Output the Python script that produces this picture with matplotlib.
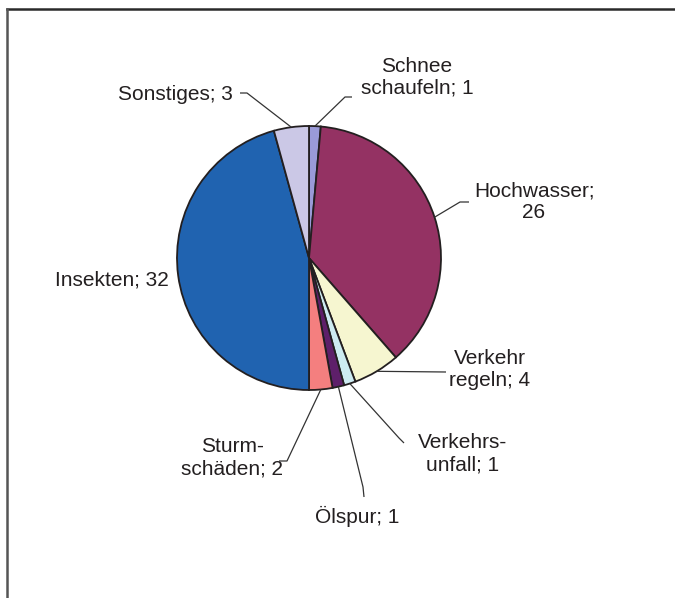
import matplotlib
matplotlib.use("Agg")
import matplotlib.pyplot as plt
import numpy as np
from matplotlib.lines import Line2D

categories = ["Schnee\nschaufeln", "Hochwasser", "Verkehr\nregeln", "Verkehrs-\nunfall",
              "Ölspur", "Sturm-\nschäden", "Insekten", "Sonstiges"]
values = [1, 26, 4, 1, 1, 2, 32, 3]
label_texts = ["Schnee\nschaufeln; 1", "Hochwasser;\n26", "Verkehr\nregeln; 4", "Verkehrs-\nunfall; 1",
               "Ölspur; 1", "Sturm-\nschäden; 2", "Insekten; 32", "Sonstiges; 3"]
colors = ["#9A9AD8", "#943263", "#F6F6D0", "#CDEBF1", "#5E1F6A", "#F47F7F", "#2063B0", "#CBC8E6"]

plt.rcParams['font.family'] = ['Liberation Sans', 'DejaVu Sans']

W, H = 675, 598
fig = plt.figure(figsize=(W / 100, H / 100), dpi=100)
cx, cy, R = 309, 258, 132
ax = fig.add_axes([(cx - R) / W, (H - cy - R) / H, 2 * R / W, 2 * R / H])

wedges, _ = ax.pie(values, colors=colors, startangle=90, counterclock=False, radius=1,
                   wedgeprops=dict(edgecolor='#231F20', linewidth=1.3))
ax.set_xlim(-1, 1)
ax.set_ylim(-1, 1)
ax.set_aspect('equal')
ax.axis('off')

def d(px, py):
    return ((px - cx) / R, (cy - py) / R)

# label layout (pixel positions) and leader elbows
label_pos = [(417, 77), (534, 202), (490, 370), (463, 454), (357, 516), (232, 458), (112, 280), (175, 95)]
leaders = [
    [(345, 97), (352, 97)],
    [(460, 202), (469, 202)],
    [(446, 372)],
    [(399, 438), (404, 443)],
    [(363, 487), (364, 497)],
    [(287, 461), (279, 461)],
    None,
    [(247, 93), (240, 93)],
]

total = sum(values)
cum = 0
for i, v in enumerate(values):
    mid = cum + v / 2
    cum += v
    ang = np.deg2rad(90 - 360 * mid / total)
    x0, y0 = np.cos(ang), np.sin(ang)
    lx, ly = d(*label_pos[i])
    ax.text(lx, ly, label_texts[i], ha='center', va='center', multialignment='center',
            fontsize=15, color='#231F20', linespacing=1.2, clip_on=False)
    if leaders[i] is not None:
        pts = [(x0, y0)] + [d(*p) for p in leaders[i]]
        xs, ys = zip(*pts)
        ax.plot(xs, ys, color='#333333', linewidth=0.9, clip_on=False, solid_capstyle='butt')

# chart frame (only top and left edges visible)
fig.add_artist(Line2D([6.5 / W, 1.0], [1 - 8.5 / H, 1 - 8.5 / H], transform=fig.transFigure,
                     color='#2A2A2A', linewidth=1.8))
fig.add_artist(Line2D([6.5 / W, 6.5 / W], [0, 1 - 8.5 / H], transform=fig.transFigure,
                     color='#555555', linewidth=1.8))

fig.savefig("out.png", dpi=100)
